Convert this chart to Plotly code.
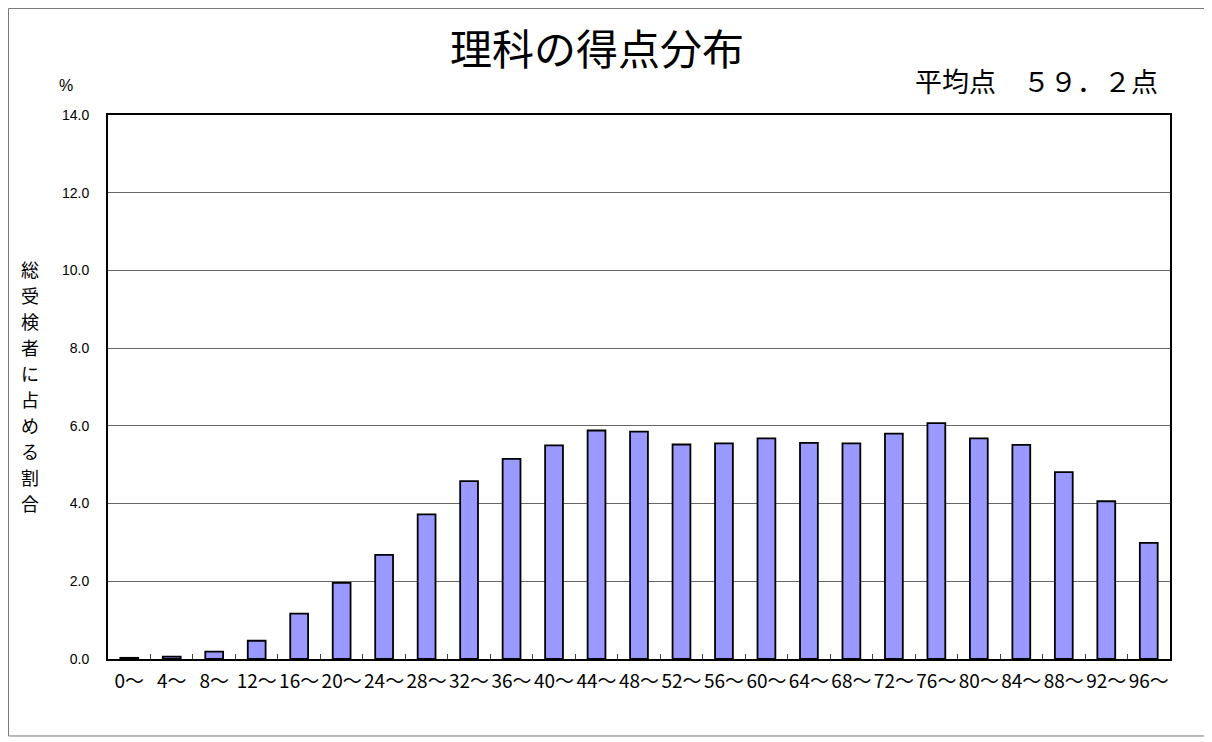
import plotly.graph_objects as go

# 得点区分と割合（％）
score_bins = ['0～', '4～', '8～', '12～', '16～', '20～', '24～', '28～', '32～', '36～',
              '40～', '44～', '48～', '52～', '56～', '60～', '64～', '68～', '72～', '76～',
              '80～', '84～', '88～', '92～', '96～']
share_pct = [0.03, 0.06, 0.19, 0.47, 1.17, 1.96, 2.68, 3.72, 4.58, 5.15,
             5.50, 5.88, 5.85, 5.52, 5.55, 5.68, 5.56, 5.55, 5.80, 6.07,
             5.68, 5.51, 4.81, 4.06, 2.99]
y_ticks = [0, 2, 4, 6, 8, 10, 12, 14]

title_text = '理科の得点分布'
mean_text = '平均点　５９．２点'
ylabel = '総受検者に占める割合'

jp_font = 'Noto Sans CJK JP'

fig = go.Figure()
fig.add_trace(go.Bar(x=score_bins, y=share_pct,
                     marker=dict(color='#9999FF', line=dict(color='black', width=1.8)),
                     width=0.42))

# ページ本体の余白(約8px)を見込んだ寸法
fig.update_layout(
    width=1204, height=734,
    margin=dict(l=100, r=42, t=107, b=83, autoexpand=False),
    paper_bgcolor='white', plot_bgcolor='white',
    showlegend=False,
    font=dict(family='Liberation Sans, Arial', color='black'),
)

fig.update_xaxes(type='category', showline=True, linecolor='black', linewidth=2, mirror=True,
                 ticks='inside', tickson='boundaries', ticklen=5, tickcolor='#444444', tickwidth=1,
                 tickangle=0, automargin=False, ticklabelstandoff=4,
                 tickfont=dict(family=jp_font, size=19), showgrid=False)
fig.update_yaxes(range=[0, 14], tickvals=y_ticks, ticktext=[f'{v:.1f}' for v in y_ticks],
                 showline=True, linecolor='black', linewidth=2, mirror=True,
                 ticks='', automargin=False, ticklabelstandoff=14,
                 tickfont=dict(size=14), showgrid=True, gridcolor='#666666', gridwidth=1,
                 zeroline=False)

fig.add_annotation(text=title_text, xref='paper', yref='paper', x=0.460, y=1.186,
                   showarrow=False, font=dict(family=jp_font, size=42))
fig.add_annotation(text=mean_text, xref='paper', yref='paper', x=0.991, y=1.103,
                   xanchor='right', showarrow=False, font=dict(family=jp_font, size=27))
fig.add_annotation(text='%', xref='paper', yref='paper', x=-0.048, y=1.074,
                   showarrow=False, font=dict(size=16))

# 縦書きの軸タイトル（1文字ずつ）
for i, ch in enumerate(ylabel):
    fig.add_annotation(text=ch, xref='paper', yref='paper', x=-0.073,
                       y=0.501 + (len(ylabel) / 2 - 0.5 - i) * 26 / 544,
                       xanchor='center', yanchor='middle',
                       showarrow=False, font=dict(family=jp_font, size=18))

# 外枠
fig.add_shape(type='rect', xref='paper', yref='paper', x0=-0.0937, x1=1.033, y0=-0.1415, y1=1.1958,
              line=dict(color='#777777', width=1))

fig.write_html('out.html')
